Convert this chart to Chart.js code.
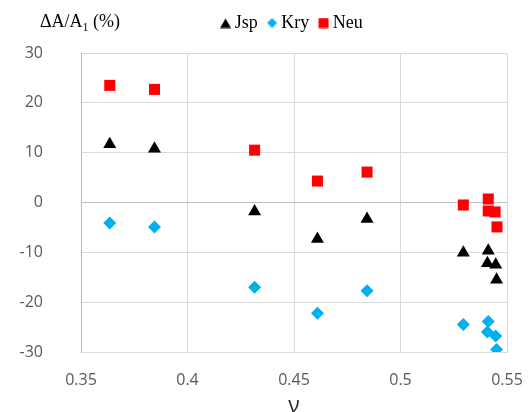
<!DOCTYPE html>
<html>
<head>
<meta charset="utf-8">
<script src="https://cdn.jsdelivr.net/npm/chart.js@4"></script>
<style>
  html, body { margin: 0; padding: 0; background: #fff; }
</style>
</head>
<body>
<canvas id="chart__1" width="529" height="412"></canvas>
<script>
"use strict";

// values
const jspNu = [0.3635, 0.3845, 0.4315, 0.461, 0.4843, 0.5295, 0.5412, 0.5408, 0.5447, 0.5451];
const jspDelta = [11.7, 10.8, -1.8, -7.3, -3.3, -10.1, -9.7, -12.2, -12.5, -15.5];

const kryNu = [0.3635, 0.3845, 0.4315, 0.461, 0.4843, 0.5295, 0.5412, 0.5408, 0.5447, 0.5451];
const kryDelta = [-4.1, -4.9, -17.0, -22.2, -17.7, -24.5, -23.9, -26.0, -26.8, -29.5];

const neuNu = [0.3635, 0.3845, 0.4315, 0.461, 0.4843, 0.5295, 0.5412, 0.5412, 0.5444, 0.5453];
const neuDelta = [23.5, 22.7, 10.5, 4.3, 6.1, -0.5, 0.7, -1.7, -1.9, -4.9];

const xTicks = [0.35, 0.4, 0.45, 0.5, 0.55];
const yTicks = [-30, -20, -10, 0, 10, 20, 30];

function toPoints(xs, ys) {
  return xs.map((x, i) => ({ x: x, y: ys[i] }));
}

const serif = "'Liberation Serif', 'Times New Roman', serif";
const sans = "'Open Sans', 'Liberation Sans', sans-serif";

// small legend markers, drawn once
function legendMarker(style, color) {
  const c = document.createElement("canvas");
  c.width = 11;
  c.height = 11;
  const g = c.getContext("2d");
  g.fillStyle = color;
  g.beginPath();
  if (style === "triangle") {
    g.moveTo(5.5, 1);
    g.lineTo(11, 10.5);
    g.lineTo(0, 10.5);
  } else if (style === "rectRot") {
    g.moveTo(5.5, 0.5);
    g.lineTo(10.5, 5.5);
    g.lineTo(5.5, 10.5);
    g.lineTo(0.5, 5.5);
  } else {
    g.rect(0.5, 0.5, 10, 10);
  }
  g.closePath();
  g.fill();
  return c;
}

const yTitlePlugin = {
  id: "yTitle",
  afterDraw(chart) {
    const ctx = chart.ctx;
    ctx.save();
    ctx.fillStyle = "#000";
    ctx.textBaseline = "alphabetic";
    ctx.font = "18px " + serif;
    let x = 40;
    const y = 27;
    ctx.fillText("ΔA/A", x, y);
    x += ctx.measureText("ΔA/A").width;
    ctx.font = "12px " + serif;
    ctx.fillText("1", x, y + 4);
    x += ctx.measureText("1").width;
    ctx.font = "18px " + serif;
    ctx.fillText(" (%)", x, y);
    ctx.restore();
  },
};

const legendMargin = {
  id: "legendMargin",
  beforeInit(chart) {
    const fit = chart.legend.fit;
    chart.legend.fit = function () {
      fit.bind(chart.legend)();
      this.height += 11;
    };
  },
};

const chartSelector__1 = document.getElementById("chart__1").getContext("2d");

const chartConfig = {
  type: "scatter",
  data: {
    datasets: [
      {
        label: "Jsp",
        data: toPoints(jspNu, jspDelta),
        pointStyle: "triangle",
        pointRadius: 7.5,
        borderColor: "#000",
        backgroundColor: "#000",
        borderWidth: 0,
      },
      {
        label: "Kry",
        data: toPoints(kryNu, kryDelta),
        pointStyle: "rectRot",
        pointRadius: 6.5,
        borderColor: "#00b0f0",
        backgroundColor: "#00b0f0",
        borderWidth: 0,
      },
      {
        label: "Neu",
        data: toPoints(neuNu, neuDelta),
        pointStyle: "rect",
        pointRadius: 7.8,
        borderColor: "#ff0000",
        backgroundColor: "#ff0000",
        borderWidth: 0,
      },
    ],
  },
  options: {
    responsive: false,
    devicePixelRatio: 1,
    animation: false,
    layout: { padding: { top: 0, right: 22, left: 0, bottom: 0 } },
    plugins: {
      tooltip: { enabled: false },
      legend: {
        display: true,
        position: "top",
        fullSize: false,
        labels: {
          usePointStyle: true,
          pointStyleWidth: 0.5,
          boxHeight: 8,
          padding: 14,
          color: "#000",
          font: { family: serif, size: 18 },
          generateLabels: (chart) => {
            const items = Chart.defaults.plugins.legend.labels.generateLabels(chart);
            items.forEach((item, i) => {
              const ds = chart.data.datasets[i];
              item.pointStyle = legendMarker(ds.pointStyle, ds.backgroundColor);
            });
            return items;
          },
        },
      },
    },
    scales: {
      x: {
        type: "linear",
        min: 0.35,
        max: 0.55,
        afterBuildTicks: (scale) => {
          scale.ticks = xTicks.map((v) => ({ value: v }));
        },
        afterFit: (scale) => {
          scale.height = 60;
          scale.paddingLeft = 0;
          scale.paddingRight = 0;
        },
        ticks: {
          color: "#595959",
          font: { family: sans, size: 16 },
          padding: 19,
          maxRotation: 0,
          callback: (v) => String(Math.round(v * 100) / 100),
        },
        grid: { color: "#d9d9d9", lineWidth: 1, drawTicks: false },
        border: { color: "#d9d9d9", width: 1 },
        title: {
          display: true,
          text: "ν",
          color: "#262626",
          font: { family: sans, size: 21 },
          padding: { top: 0, bottom: -7 },
        },
      },
      y: {
        type: "linear",
        min: -30,
        max: 30,
        afterBuildTicks: (scale) => {
          scale.ticks = yTicks.map((v) => ({ value: v }));
        },
        afterFit: (scale) => {
          scale.width = 81;
        },
        ticks: {
          color: "#595959",
          font: { family: sans, size: 16 },
          padding: 38,
        },
        grid: {
          color: (c) => (c.tick && c.tick.value === 0 ? "#bfbfbf" : "#d9d9d9"),
          lineWidth: 1,
          drawTicks: false,
        },
        border: { color: "#bfbfbf", width: 1 },
      },
    },
  },
  plugins: [yTitlePlugin, legendMargin],
};

const chart__1 = new Chart(chartSelector__1, chartConfig);
</script>
</body>
</html>
